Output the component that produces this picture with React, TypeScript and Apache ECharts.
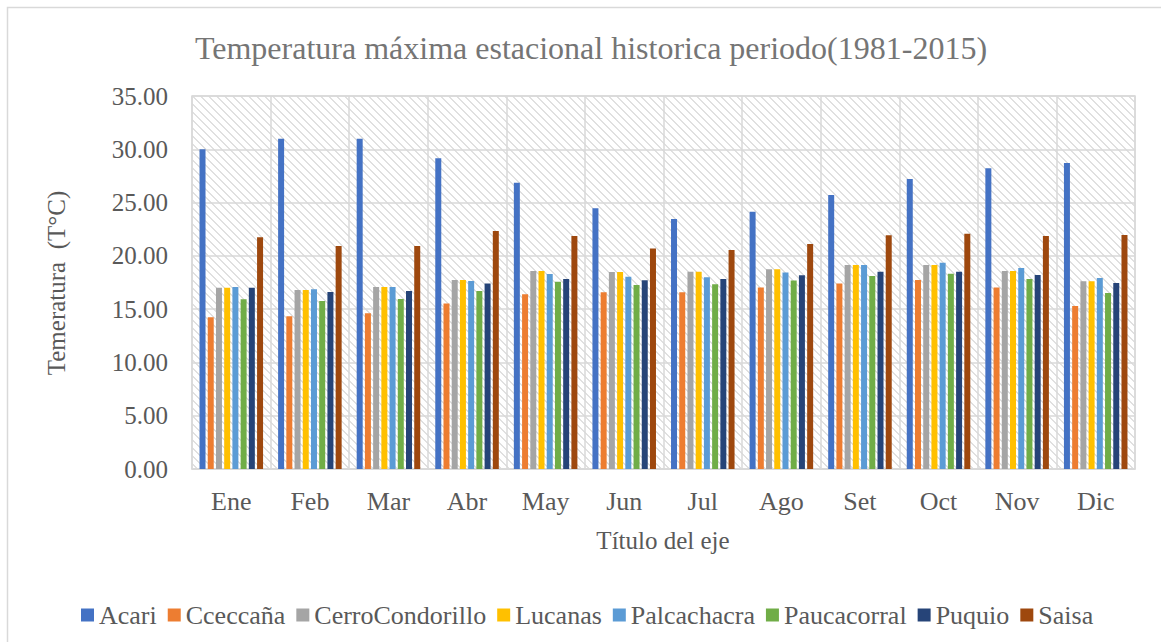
import React, { useEffect, useRef } from "react";
import * as echarts from "echarts";

const months = ["Ene", "Feb", "Mar", "Abr", "May", "Jun", "Jul", "Ago", "Set", "Oct", "Nov", "Dic"];
const acari = [30.0, 31.0, 30.99, 29.15, 26.86, 24.46, 23.46, 24.15, 25.71, 27.21, 28.21, 28.71];
const cceccana = [14.25, 14.34, 14.62, 15.52, 16.4, 16.59, 16.59, 17.02, 17.4, 17.74, 17.02, 15.3];
const cerroCondorillo = [17.0, 16.8, 17.08, 17.74, 18.58, 18.49, 18.52, 18.74, 19.15, 19.15, 18.58, 17.62];
const lucanas = [17.0, 16.8, 17.08, 17.74, 18.58, 18.49, 18.52, 18.74, 19.15, 19.15, 18.58, 17.62];
const palcachacra = [17.08, 16.87, 17.08, 17.65, 18.3, 18.05, 17.99, 18.43, 19.15, 19.36, 18.87, 17.93];
const paucacorral = [15.93, 15.77, 15.96, 16.71, 17.58, 17.27, 17.34, 17.68, 18.12, 18.33, 17.83, 16.52];
const puquio = [17.0, 16.62, 16.71, 17.4, 17.83, 17.71, 17.83, 18.18, 18.52, 18.52, 18.21, 17.46];
const saisa = [21.74, 20.93, 20.93, 22.33, 21.86, 20.68, 20.55, 21.12, 21.93, 22.08, 21.86, 21.96];

const seriesNames = ["Acari", "Cceccaña", "CerroCondorillo", "Lucanas", "Palcachacra", "Paucacorral", "Puquio", "Saisa"];
const seriesData = [acari, cceccana, cerroCondorillo, lucanas, palcachacra, paucacorral, puquio, saisa];
const colors = ["#4472C4", "#ED7D31", "#A5A5A5", "#FFC000", "#5B9BD5", "#70AD47", "#264478", "#9E480E"];

const xAxisTitle = "Título del eje";
const yAxisTitle = "Temeratura  (T°C)";
const chartTitle = "Temperatura máxima estacional historica periodo(1981-2015)";

const FONT = "Liberation Serif";
const TXT = "#595959";

export default function App() {
  const ref = useRef<HTMLDivElement>(null);
  useEffect(() => {
    if (!ref.current) return;
    const chart = echarts.init(ref.current, undefined, { renderer: "svg" });

    const cv = document.createElement("canvas");
    cv.width = 8;
    cv.height = 8;
    const ctx = cv.getContext("2d")!;
    ctx.fillStyle = "#ffffff";
    ctx.fillRect(0, 0, 8, 8);
    ctx.fillStyle = "#e0e0e0";
    for (let i = 0; i < 8; i++) {
      ctx.fillRect(i, i, 1, 1);
      ctx.fillRect((i + 1) % 8, i, 1, 1);
    }

    chart.setOption({
      animation: false,
      color: colors,
      textStyle: { fontFamily: FONT },
      title: {
        text: chartTitle,
        left: 586,
        textAlign: "center",
        top: 27,
        textStyle: { fontFamily: FONT, fontWeight: "normal", fontSize: 32, color: "#757575" },
      },
      graphic: [
        {
          type: "rect",
          left: 5,
          top: 5,
          shape: { width: 1200, height: 700 },
          style: { fill: "none", stroke: "#d9d9d9", lineWidth: 1.5 },
          z: -10,
        },
        {
          type: "text",
          x: 663,
          y: 540,
          style: {
            text: xAxisTitle,
            fontFamily: FONT,
            fontSize: 25,
            fill: TXT,
            textAlign: "center",
            textVerticalAlign: "middle",
          },
        },
        {
          type: "text",
          x: 56,
          y: 283,
          rotation: Math.PI / 2,
          style: {
            text: yAxisTitle,
            fontFamily: FONT,
            fontSize: 25,
            fill: TXT,
            textAlign: "center",
            textVerticalAlign: "middle",
          },
        },
      ],
      legend: {
        top: 597,
        left: 76,
        icon: "rect",
        itemWidth: 13,
        itemHeight: 13,
        itemGap: 11,
        textStyle: {
          fontFamily: FONT,
          fontSize: 26,
          color: TXT,
        },
        data: seriesNames,
      },
      grid: {
        left: 192,
        right: 26,
        top: 96,
        bottom: 173,
        show: true,
        backgroundColor: { image: cv, repeat: "repeat" },
        borderColor: "#d9d9d9",
        borderWidth: 1.5,
      },
      xAxis: {
        type: "category",
        data: months,
        axisLine: { lineStyle: { color: "#d9d9d9", width: 1.5 } },
        axisTick: { show: false },
        axisLabel: { fontFamily: FONT, fontSize: 26, color: TXT, margin: 19 },
        splitLine: { show: true, lineStyle: { color: "#d9d9d9", width: 1.5 } },
      },
      yAxis: {
        type: "value",
        min: 0,
        max: 35,
        interval: 5,
        axisLine: { show: false },
        axisTick: { show: false },
        axisLabel: {
          fontFamily: FONT,
          fontSize: 25,
          color: TXT,
          margin: 24,
          formatter: (v: number) => v.toFixed(2),
        },
        splitLine: { lineStyle: { color: "#d9d9d9", width: 1.5 } },
      },
      series: seriesNames.map((n, i) => ({
        name: n,
        type: "bar",
        data: seriesData[i],
        barWidth: 6,
        barGap: "37%",
      })),
    });
    return () => chart.dispose();
  }, []);
  return (
    <div
      ref={ref}
      style={{ position: "fixed", left: 0, top: 0, width: 1161, height: 642, background: "#fff" }}
    />
  );
}
